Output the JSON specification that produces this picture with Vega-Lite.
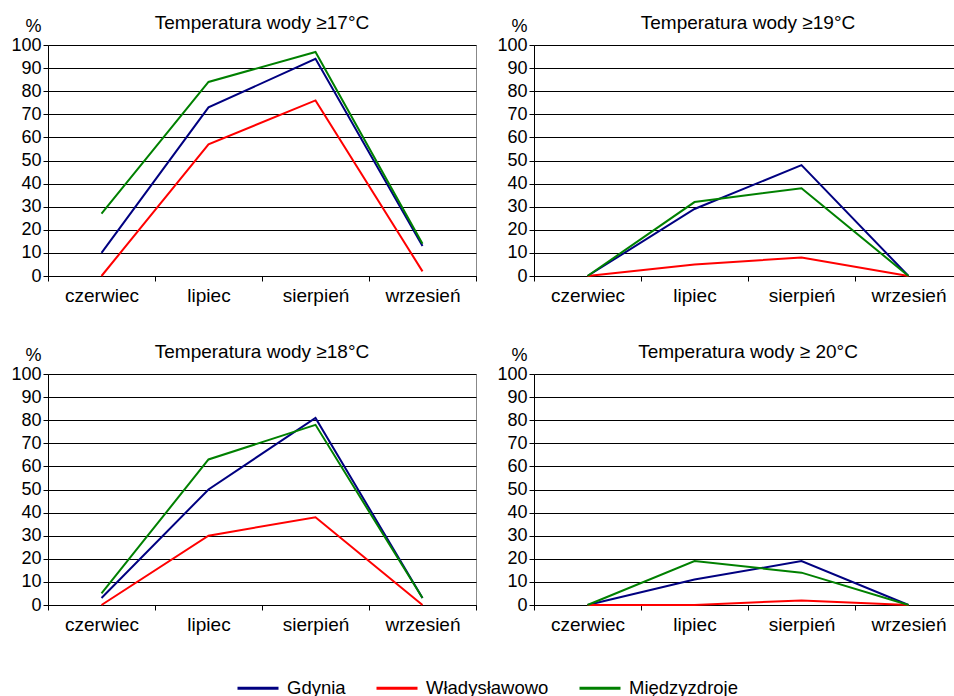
{
  "$schema": "https://vega.github.io/schema/vega-lite/v6.json",
  "padding": {"left": 10, "top": 13, "right": 0, "bottom": 0},
  "datasets": {
    "t": [
      {"p": 17, "m": "czerwiec", "c": "Gdynia", "v": 10},
      {"p": 17, "m": "lipiec", "c": "Gdynia", "v": 73},
      {"p": 17, "m": "sierpień", "c": "Gdynia", "v": 94},
      {"p": 17, "m": "wrzesień", "c": "Gdynia", "v": 13},
      {"p": 17, "m": "czerwiec", "c": "Władysławowo", "v": 0},
      {"p": 17, "m": "lipiec", "c": "Władysławowo", "v": 57},
      {"p": 17, "m": "sierpień", "c": "Władysławowo", "v": 76},
      {"p": 17, "m": "wrzesień", "c": "Władysławowo", "v": 2},
      {"p": 17, "m": "czerwiec", "c": "Międzyzdroje", "v": 27},
      {"p": 17, "m": "lipiec", "c": "Międzyzdroje", "v": 84},
      {"p": 17, "m": "sierpień", "c": "Międzyzdroje", "v": 97},
      {"p": 17, "m": "wrzesień", "c": "Międzyzdroje", "v": 14},
      {"p": 19, "m": "czerwiec", "c": "Gdynia", "v": 0},
      {"p": 19, "m": "lipiec", "c": "Gdynia", "v": 29},
      {"p": 19, "m": "sierpień", "c": "Gdynia", "v": 48},
      {"p": 19, "m": "wrzesień", "c": "Gdynia", "v": 0},
      {"p": 19, "m": "czerwiec", "c": "Władysławowo", "v": 0},
      {"p": 19, "m": "lipiec", "c": "Władysławowo", "v": 5},
      {"p": 19, "m": "sierpień", "c": "Władysławowo", "v": 8},
      {"p": 19, "m": "wrzesień", "c": "Władysławowo", "v": 0},
      {"p": 19, "m": "czerwiec", "c": "Międzyzdroje", "v": 0},
      {"p": 19, "m": "lipiec", "c": "Międzyzdroje", "v": 32},
      {"p": 19, "m": "sierpień", "c": "Międzyzdroje", "v": 38},
      {"p": 19, "m": "wrzesień", "c": "Międzyzdroje", "v": 0},
      {"p": 18, "m": "czerwiec", "c": "Gdynia", "v": 3},
      {"p": 18, "m": "lipiec", "c": "Gdynia", "v": 50},
      {"p": 18, "m": "sierpień", "c": "Gdynia", "v": 81},
      {"p": 18, "m": "wrzesień", "c": "Gdynia", "v": 3},
      {"p": 18, "m": "czerwiec", "c": "Władysławowo", "v": 0},
      {"p": 18, "m": "lipiec", "c": "Władysławowo", "v": 30},
      {"p": 18, "m": "sierpień", "c": "Władysławowo", "v": 38},
      {"p": 18, "m": "wrzesień", "c": "Władysławowo", "v": 0},
      {"p": 18, "m": "czerwiec", "c": "Międzyzdroje", "v": 5},
      {"p": 18, "m": "lipiec", "c": "Międzyzdroje", "v": 63},
      {"p": 18, "m": "sierpień", "c": "Międzyzdroje", "v": 78},
      {"p": 18, "m": "wrzesień", "c": "Międzyzdroje", "v": 3},
      {"p": 20, "m": "czerwiec", "c": "Gdynia", "v": 0},
      {"p": 20, "m": "lipiec", "c": "Gdynia", "v": 11},
      {"p": 20, "m": "sierpień", "c": "Gdynia", "v": 19},
      {"p": 20, "m": "wrzesień", "c": "Gdynia", "v": 0},
      {"p": 20, "m": "czerwiec", "c": "Władysławowo", "v": 0},
      {"p": 20, "m": "lipiec", "c": "Władysławowo", "v": 0},
      {"p": 20, "m": "sierpień", "c": "Władysławowo", "v": 2},
      {"p": 20, "m": "wrzesień", "c": "Władysławowo", "v": 0},
      {"p": 20, "m": "czerwiec", "c": "Międzyzdroje", "v": 0},
      {"p": 20, "m": "lipiec", "c": "Międzyzdroje", "v": 19},
      {"p": 20, "m": "sierpień", "c": "Międzyzdroje", "v": 14},
      {"p": 20, "m": "wrzesień", "c": "Międzyzdroje", "v": 0}
    ]
  },
  "data": {"name": "t"},
  "columns": 2,
  "spacing": {"column": 19, "row": 36},
  "concat": [
    {
      "width": 428, "height": 231,
      "title": {"text": "Temperatura wody ≥17°C"},
      "transform": [{"filter": "datum.p == 17"}],
      "mark": {"type": "line", "strokeWidth": 2},
      "encoding": {
        "x": {"field": "m", "type": "nominal", "sort": ["czerwiec", "lipiec", "sierpień", "wrzesień"], "scale": {"type": "band", "paddingInner": 0, "paddingOuter": 0}},
        "y": {"field": "v", "type": "quantitative", "scale": {"domain": [0, 100], "nice": false}, "title": "%", "axis": {"values": [0, 10, 20, 30, 40, 50, 60, 70, 80, 90, 100]}},
        "color": {"field": "c", "type": "nominal", "scale": {"domain": ["Gdynia", "Władysławowo", "Międzyzdroje"], "range": ["#000080", "#ff0000", "#008000"]}, "title": null}
      }
    },
    {
      "width": 428, "height": 231,
      "title": {"text": "Temperatura wody ≥19°C"},
      "transform": [{"filter": "datum.p == 19"}],
      "mark": {"type": "line", "strokeWidth": 2},
      "encoding": {
        "x": {"field": "m", "type": "nominal", "sort": ["czerwiec", "lipiec", "sierpień", "wrzesień"], "scale": {"type": "band", "paddingInner": 0, "paddingOuter": 0}},
        "y": {"field": "v", "type": "quantitative", "scale": {"domain": [0, 100], "nice": false}, "title": "%", "axis": {"values": [0, 10, 20, 30, 40, 50, 60, 70, 80, 90, 100]}},
        "color": {"field": "c", "type": "nominal", "scale": {"domain": ["Gdynia", "Władysławowo", "Międzyzdroje"], "range": ["#000080", "#ff0000", "#008000"]}, "title": null}
      }
    },
    {
      "width": 428, "height": 231,
      "title": {"text": "Temperatura wody ≥18°C"},
      "transform": [{"filter": "datum.p == 18"}],
      "mark": {"type": "line", "strokeWidth": 2},
      "encoding": {
        "x": {"field": "m", "type": "nominal", "sort": ["czerwiec", "lipiec", "sierpień", "wrzesień"], "scale": {"type": "band", "paddingInner": 0, "paddingOuter": 0}},
        "y": {"field": "v", "type": "quantitative", "scale": {"domain": [0, 100], "nice": false}, "title": "%", "axis": {"values": [0, 10, 20, 30, 40, 50, 60, 70, 80, 90, 100]}},
        "color": {"field": "c", "type": "nominal", "scale": {"domain": ["Gdynia", "Władysławowo", "Międzyzdroje"], "range": ["#000080", "#ff0000", "#008000"]}, "title": null}
      }
    },
    {
      "width": 428, "height": 231,
      "title": {"text": "Temperatura wody ≥ 20°C"},
      "transform": [{"filter": "datum.p == 20"}],
      "mark": {"type": "line", "strokeWidth": 2},
      "encoding": {
        "x": {"field": "m", "type": "nominal", "sort": ["czerwiec", "lipiec", "sierpień", "wrzesień"], "scale": {"type": "band", "paddingInner": 0, "paddingOuter": 0}},
        "y": {"field": "v", "type": "quantitative", "scale": {"domain": [0, 100], "nice": false}, "title": "%", "axis": {"values": [0, 10, 20, 30, 40, 50, 60, 70, 80, 90, 100]}},
        "color": {"field": "c", "type": "nominal", "scale": {"domain": ["Gdynia", "Władysławowo", "Międzyzdroje"], "range": ["#000080", "#ff0000", "#008000"]}, "title": null}
      }
    }
  ],
  "config": {
    "font": "Liberation Sans",
    "view": {"stroke": "#888888", "strokeWidth": 1},
    "title": {"fontSize": 19, "fontWeight": "normal", "color": "#000000", "anchor": "middle", "frame": "group", "baseline": "alphabetic", "offset": -16},
    "axis": {"labelFontSize": 18, "labelColor": "#000000", "domainColor": "#000000", "tickColor": "#000000", "tickSize": 5, "domainWidth": 1, "tickWidth": 1},
    "axisX": {"title": null, "labelAngle": 0, "tickBand": "extent", "grid": false, "labelPadding": 5, "labelFontSize": 19},
    "axisY": {"grid": true, "gridColor": "#000000", "gridOpacity": 1, "gridWidth": 1, "labelPadding": 2, "titleAngle": 0, "titleFontSize": 18, "titleFontWeight": "normal", "titleColor": "#000000", "titleAlign": "center", "titleBaseline": "alphabetic", "titleX": -15, "titleY": -14},
    "legend": {"orient": "bottom", "direction": "horizontal", "symbolType": "stroke", "symbolSize": 1681, "symbolStrokeWidth": 3, "labelFontSize": 18.5, "labelColor": "#000000", "labelOffset": 7, "columnPadding": 24, "offset": 31, "layout": {"bottom": {"anchor": "middle"}}}
  }
}
